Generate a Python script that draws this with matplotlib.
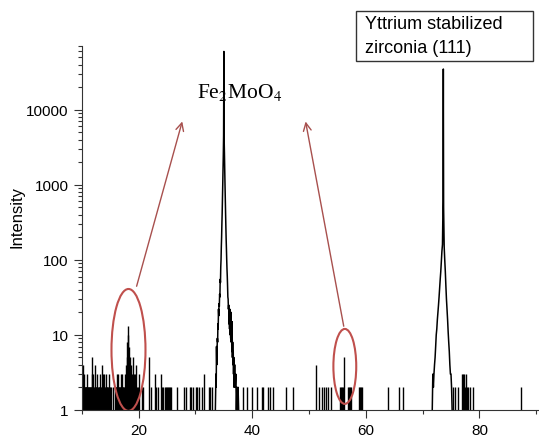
import matplotlib
matplotlib.use("Agg")
import matplotlib.pyplot as plt
from matplotlib.patches import Ellipse, Rectangle
from matplotlib.ticker import LogLocator, NullFormatter, FixedLocator

plt.rcParams["font.family"] = ["Liberation Sans", "DejaVu Sans"]
plt.rcParams["mathtext.fontset"] = "stix"

# background noise spikes (2theta, counts)
noise_x = [
    10.1, 10.18, 10.25, 10.33, 10.4, 10.5, 10.58, 10.65, 10.72, 10.8, 10.88, 10.95,
    11.03, 11.1, 11.18, 11.25, 11.4, 11.48, 11.55, 11.63, 11.7, 11.78, 11.85, 11.95,
    12.02, 12.1, 12.25, 12.33, 12.4, 12.55, 12.62, 12.7, 12.85, 12.92, 13.0, 13.1,
    13.18, 13.25, 13.4, 13.5, 13.58, 13.65, 13.8, 13.88, 13.95, 14.1, 14.18, 14.25,
    14.4, 14.48, 14.55, 14.7, 14.78, 14.85, 15.0, 15.2, 15.5, 15.75,
    16.0, 16.08, 16.15, 16.3, 16.38, 16.45, 16.6, 16.68, 16.75, 16.9, 16.98, 17.05,
    17.2, 17.28, 17.35, 17.5, 17.58, 17.65, 17.8, 17.9, 18.0, 18.1, 18.2, 18.35,
    18.5, 18.65, 18.8, 18.95, 19.1, 19.25, 19.4, 19.55, 19.7, 19.85,
    20.1, 20.5, 20.7, 21.9, 22.1, 22.9, 23.0, 23.35, 23.9, 24.05, 24.3, 24.6,
    24.75, 24.95, 25.1, 25.3, 25.5, 25.7, 26.7, 28.05, 28.35, 28.95, 29.2, 29.5,
    30.1, 30.25, 30.65, 31.1, 31.5, 32.3, 32.5, 32.9,
    38.3, 39.1, 39.9, 40.9, 41.7, 41.9, 42.8, 43.1, 43.6, 45.9, 47.1, 51.2,
    51.8, 52.3, 52.6, 53.0, 53.4, 53.9, 55.5, 55.65, 55.8, 56.0, 56.2, 56.9,
    57.05, 57.2, 57.4, 58.8, 59.0, 59.15, 59.3, 63.9, 65.9, 66.6,
    75.4, 75.75, 76.3, 77.0, 77.2, 77.35, 77.5, 77.7, 77.9, 78.05, 78.4, 78.9,
    87.35,
]
noise_y = [
    4, 2, 4, 2, 3, 2, 2, 2, 2, 2, 2, 3,
    2, 2, 2, 2, 2, 2, 2, 2, 5, 2, 3, 3,
    2, 2, 4, 2, 2, 2, 3, 2, 2, 2, 2, 3,
    2, 2, 2, 4, 2, 3, 2, 2, 3, 2, 3, 2,
    2, 2, 2, 3, 2, 2, 2, 2, 2, 2,
    2, 2, 3, 3, 2, 2, 2, 2, 2, 3, 2, 3,
    2, 2, 2, 3, 2, 2, 4, 5, 8, 13, 10, 7,
    5, 4, 3, 5, 3, 2, 3, 4, 2, 2,
    3, 2, 2, 5, 2, 3, 2, 2, 3, 2, 2, 2,
    2, 2, 2, 2, 2, 2, 2, 2, 2, 2, 2, 2,
    2, 2, 2, 2, 3, 2, 2, 2,
    2, 2, 2, 2, 2, 2, 2, 2, 2, 2, 2, 4,
    2, 2, 2, 2, 2, 2, 2, 2, 2, 2, 5, 2,
    2, 2, 2, 2, 2, 2, 2, 2, 2, 2,
    2, 2, 2, 3, 3, 3, 2, 3, 2, 2, 2, 2,
    2,
]

# Fe2MoO4 reflection profile
fe_x = [
    33.5, 33.6, 33.65, 33.7, 33.75, 33.8, 33.85, 33.9, 33.95, 34.0, 34.05, 34.1,
    34.15, 34.2, 34.25, 34.3, 34.35, 34.4, 34.45, 34.5, 34.55, 34.6, 34.65, 34.7,
    34.75, 34.8, 34.85, 34.9, 34.95, 35.0, 35.05, 35.1, 35.15, 35.2, 35.25, 35.3,
    35.35, 35.4, 35.45, 35.5, 35.55, 35.6, 35.65, 35.7, 35.75, 35.8, 35.85, 35.9,
    35.95, 36.0, 36.05, 36.1, 36.15, 36.2, 36.25, 36.3, 36.35, 36.4, 36.45, 36.5,
    36.55, 36.6, 36.65, 36.7, 36.75, 36.8, 36.9, 37.0, 37.1, 37.2, 37.3, 37.4,
    37.5, 37.6,
]
fe_y = [
    1, 3, 2, 7, 4, 6, 9, 8, 14, 12, 22, 18,
    26, 24, 35, 32, 55, 50, 80, 100, 150, 200, 300, 420,
    650, 1000, 1600, 2500, 4500, 60000, 4000, 2600, 1600, 1000, 650, 420,
    280, 190, 140, 100, 75, 60, 45, 32, 30, 22, 25, 14,
    20, 12, 22, 10, 18, 9, 20, 8, 12, 6, 15, 5,
    8, 4, 6, 3, 5, 2, 4, 2, 3, 1, 2, 1,
    2, 1,
]

# YSZ (111) reflection profile
ysz_x = [
    71.7, 71.8, 71.9, 72.0, 72.1, 72.2, 72.3, 72.4, 72.5, 72.6, 72.7, 72.8,
    72.9, 73.0, 73.1, 73.2, 73.3, 73.4, 73.5, 73.6, 73.65, 73.7, 73.8, 73.9,
    74.0, 74.1, 74.2, 74.3, 74.4, 74.5, 74.6, 74.7, 74.8, 74.9, 75.0, 75.1,
    75.2,
]
ysz_y = [
    1, 3, 2, 3, 4, 5, 7, 10, 12, 16, 20, 25,
    32, 42, 55, 70, 95, 130, 160, 600, 35000, 500, 150, 100,
    70, 45, 30, 22, 16, 11, 8, 6, 4, 3, 3, 2,
    1,
]

x_ticks = [20, 40, 60, 80]
y_ticks = [1, 10, 100, 1000, 10000]

fig = plt.figure(figsize=(5.39, 4.39), dpi=100)
ax = fig.add_axes([0.152, 0.064, 0.848, 0.829])

ax.vlines(noise_x, 1, noise_y, colors="black", linewidth=1.0)
ax.plot(fe_x, fe_y, color="black", linewidth=1.1)
ax.plot(ysz_x, ysz_y, color="black", linewidth=1.1)

ax.set_yscale("log")
ax.set_xlim(10, 90.5)
ax.set_ylim(1, 7.1e4)
ax.set_xticks(x_ticks)
ax.set_xticklabels([str(t) for t in x_ticks])
ax.xaxis.set_minor_locator(FixedLocator([10, 30, 50, 70, 90]))
ax.set_yticks(y_ticks)
ax.set_yticklabels([str(t) for t in y_ticks])
ax.yaxis.set_minor_locator(LogLocator(base=10, subs=range(2, 10)))
ax.yaxis.set_minor_formatter(NullFormatter())
ax.tick_params(which="major", length=6, width=0.8, labelsize=11, colors="#333333", labelcolor="black")
ax.tick_params(which="minor", length=3, width=0.8, colors="#333333")
ax.spines["top"].set_visible(False)
ax.spines["right"].set_visible(False)
for s in ("left", "bottom"):
    ax.spines[s].set_color("#333333")
    ax.spines[s].set_linewidth(0.8)

ax.set_ylabel("Intensity", fontsize=12)
ax.yaxis.set_label_coords(-0.125, 0.533)

# red ellipses marking weak reflections
ell_color = "#c0504d"
for cx, cy, w, h in [(18.2, 6.3, 0.0744, 0.335), (56.3, 3.8, 0.050, 0.206)]:
    ac = ax.transAxes.inverted().transform(ax.transData.transform((cx, cy)))
    ax.add_patch(Ellipse(ac, w, h, transform=ax.transAxes, fill=False,
                         edgecolor=ell_color, linewidth=1.5, zorder=5))

arrow_color = "#a8504e"
ax.annotate("", xy=(27.8, 7600), xytext=(19.5, 41),
            arrowprops=dict(arrowstyle="->", color=arrow_color, lw=1.0, mutation_scale=14))
ax.annotate("", xy=(49.3, 7600), xytext=(56.2, 12),
            arrowprops=dict(arrowstyle="->", color=arrow_color, lw=1.0, mutation_scale=14))

fig.text(0.3655, 0.777, "Fe$_2$MoO$_4$", fontsize=15.5, family="Liberation Serif",
         ha="left", va="baseline")

fig.add_artist(Rectangle((0.660, 0.859), 0.328, 0.114, transform=fig.transFigure,
                         fill=False, edgecolor="#333333", linewidth=1.0))
fig.text(0.678, 0.945, "Yttrium stabilized", fontsize=13, ha="left", va="center")
fig.text(0.678, 0.890, "zirconia (111)", fontsize=13, ha="left", va="center")

fig.savefig("out.png", dpi=100)
